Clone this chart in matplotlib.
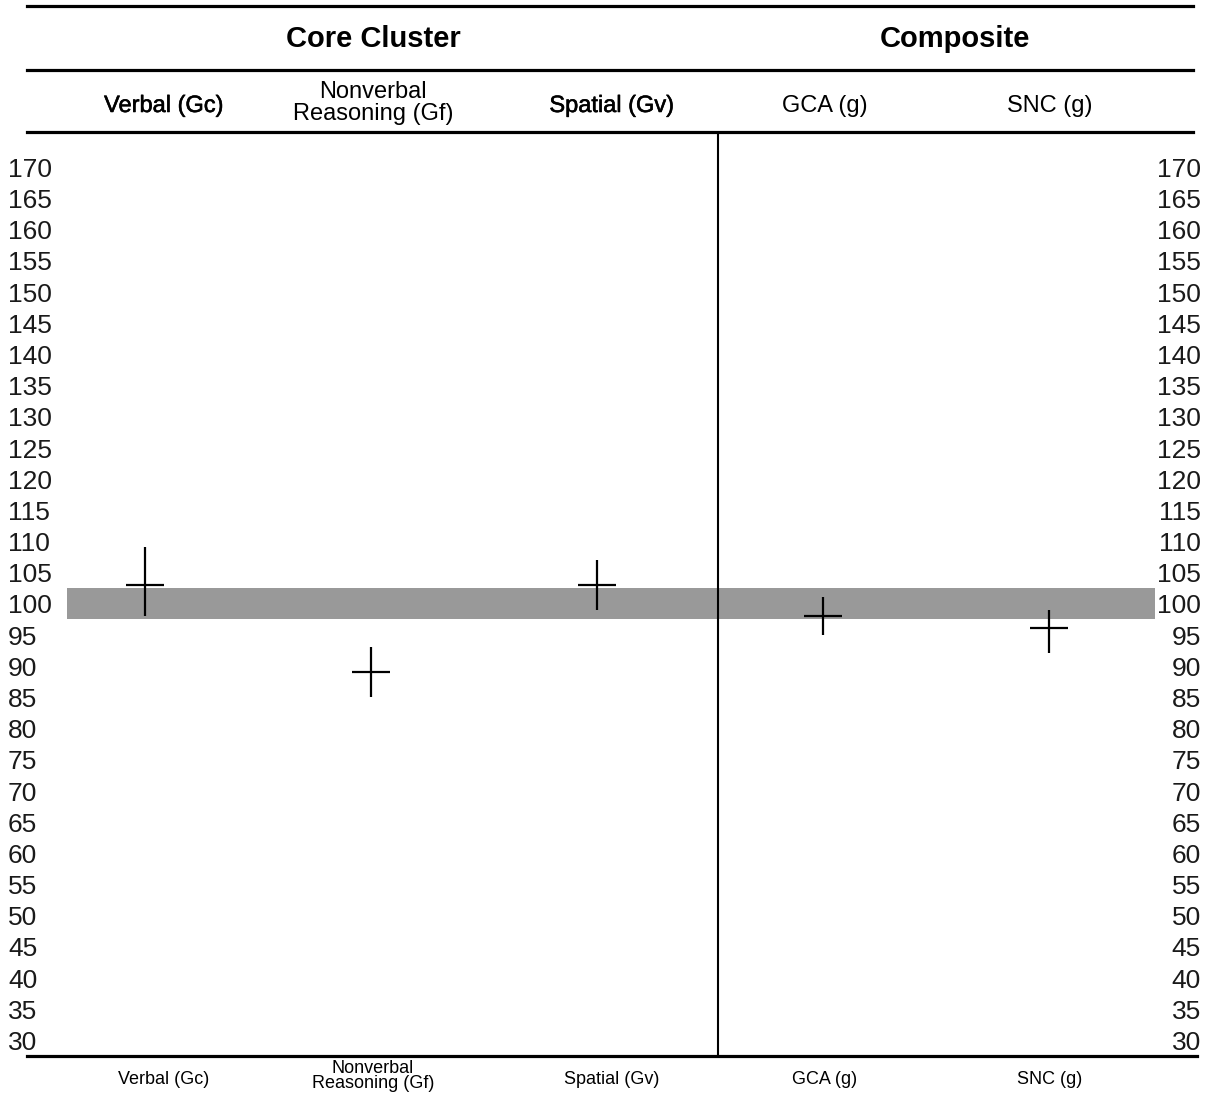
import matplotlib.pyplot as plt
import matplotlib.transforms as mtransforms
import matplotlib.patheffects as pe
from matplotlib.lines import Line2D
import numpy as np

plt.rcParams['font.family'] = ['Liberation Sans', 'DejaVu Sans']

# data
categories = ['Verbal (Gc)', 'Nonverbal\nReasoning (Gf)', 'Spatial (Gv)', 'GCA (g)', 'SNC (g)']
scores = [103, 89, 103, 98, 96]
ci_low = [98, 85, 99, 95, 92]
ci_high = [109, 93, 107, 101, 99]
groups = ['Core Cluster', 'Composite']
y_ticks = list(range(30, 175, 5))
avg_band = (97.5, 102.5)

W, H = 1207, 1094
fig = plt.figure(figsize=(W / 100, H / 100), dpi=100)


def fx(px):
    return px / W


def fy(py):
    return 1 - py / H


# plot area between header rule and bottom rule
ax = fig.add_axes([fx(27), fy(1056), fx(1197) - fx(27), fy(132) - fy(1056)])
x = np.arange(len(categories))
ax.set_xlim(-0.522, 4.655)
ax.set_ylim(27.44, 175.6)
ax.axis('off')

# average range band
ax.axhspan(avg_band[0], avg_band[1], xmin=40 / 1170, xmax=1128 / 1170,
           color='#999999', lw=0, zorder=1)

# score with confidence interval
yerr = [np.subtract(scores, ci_low), np.subtract(ci_high, scores)]
ax.errorbar(x, scores, yerr=yerr, fmt='_', color='black', markersize=27,
            mew=1.6, elinewidth=1.6, capsize=0, zorder=3)

# divider between core clusters and composites
ax.axvline(2.535, color='black', lw=1.5, zorder=2)

# score scale on both sides
trans = mtransforms.blended_transform_factory(fig.transFigure, ax.transData)
trans = mtransforms.offset_copy(trans, fig=fig, y=-3, units='dots')
for v in y_ticks:
    ax.text(fx(8), v, str(v), transform=trans, ha='left', va='center',
            fontsize=19, color='#1a1a1a')
    ax.text(fx(1201), v, str(v), transform=trans, ha='right', va='center',
            fontsize=19, color='#1a1a1a')

# header rules
for yy, x0, x1 in [(6, 27, 1193), (70, 27, 1193), (132, 27, 1193), (1056, 27, 1197)]:
    fig.add_artist(Line2D([fx(x0), fx(x1)], [fy(yy), fy(yy)], color='black',
                          lw=2.3, transform=fig.transFigure))

# group titles
group_px = [373, 955]
for g, gx in zip(groups, group_px):
    fig.text(fx(gx), fy(39), g, ha='center', va='center', fontsize=21,
             fontweight='bold')

# column labels top and bottom
label_px = [164, 373, 612, 825, 1050]
heavy = {'Verbal (Gc)', 'Spatial (Gv)'}
for lab, lx in zip(categories, label_px):
    two = '\n' in lab
    t = fig.text(fx(lx), fy(103 if two else 106), lab, ha='center', va='center',
                 fontsize=17, linespacing=1.05)
    if lab in heavy:
        t.set_path_effects([pe.withStroke(linewidth=0.4, foreground='black')])
    fig.text(fx(lx), fy(1076 if two else 1079), lab, ha='center', va='center',
             fontsize=13, linespacing=0.9)

fig.savefig('out.png', dpi=100)
